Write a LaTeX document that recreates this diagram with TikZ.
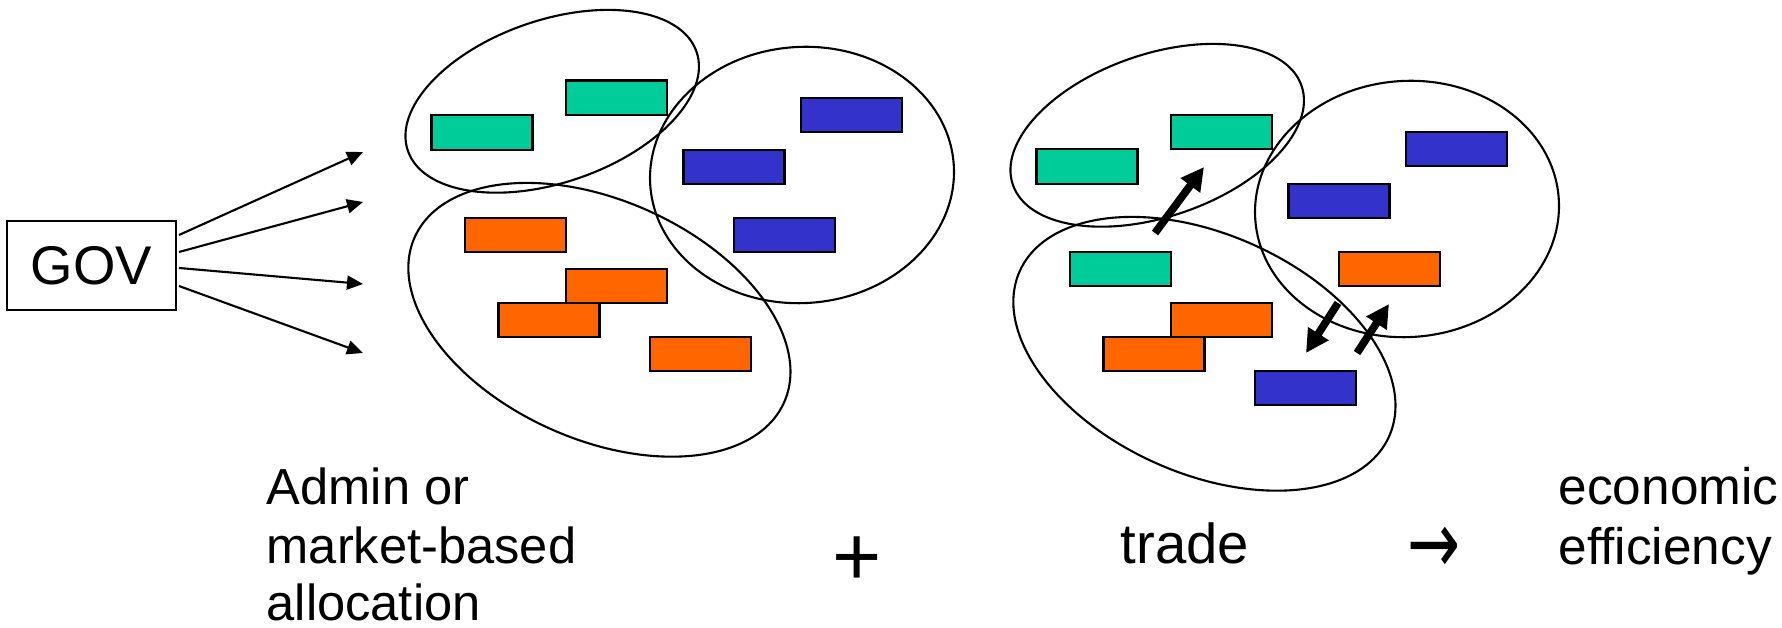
\documentclass[tikz,border=0pt]{standalone}
\usepackage{fontspec}
\setmainfont{Liberation Sans}
\newfontfamily\arrowfont{DejaVu Sans}
\usetikzlibrary{arrows.meta}
\definecolor{tgreen}{HTML}{00CC99}
\definecolor{tblue}{HTML}{3333CC}
\definecolor{torange}{HTML}{FF6600}
\begin{document}
\begin{tikzpicture}[x=0.01cm,y=-0.01cm,
  bar/.style={draw=black, line width=0.7pt, minimum width=1.01cm, minimum height=0.345cm, inner sep=0pt, outer sep=0pt},
  grn/.style={bar, fill=tgreen},
  blu/.style={bar, fill=tblue},
  org/.style={bar, fill=torange},
  group/.style={draw=black, line width=0.6pt},
  thinarrow/.style={line width=0.6pt, -{Triangle[length=0.16cm,width=0.14cm]}},
  thickarrow/.style={line width=2.2pt, -{Triangle[length=0.23cm,width=0.23cm]}},
  lbl/.style={inner sep=0pt, anchor=base west}]
\useasboundingbox (0,0) rectangle (1782,628);

% GOV and allocation arrows
\node[draw, line width=0.6pt, minimum width=1.69cm, minimum height=0.89cm, inner sep=0pt,
  font=\fontsize{15.5}{18}\selectfont] (gov) at (91.5,265.5) {GOV};
\coordinate (s1) at (179,235); \coordinate (e1) at (363,152);
\coordinate (s2) at (179,252); \coordinate (e2) at (363,202);
\coordinate (s3) at (179,268); \coordinate (e3) at (363,284);
\coordinate (s4) at (179,286); \coordinate (e4) at (363,353);
\draw[thinarrow] (s1) -- (e1);
\draw[thinarrow] (s2) -- (e2);
\draw[thinarrow] (s3) -- (e3);
\draw[thinarrow] (s4) -- (e4);

% left cluster
\node[grn] (lg1) at (481.9,132.5) {};
\node[grn] (lg2) at (616.6,98) {};
\node[blu] (lb1) at (851.5,115) {};
\node[blu] (lb2) at (734,167) {};
\node[blu] (lb3) at (784.5,235) {};
\node[org] (lo1) at (515.4,235) {};
\node[org] (lo2) at (616.6,286) {};
\node[org] (lo3) at (549,320) {};
\node[org] (lo4) at (700.5,354) {};
\draw[group, rotate around={18.9:(552.2,101.3)}] (552.2,101.3) ellipse [x radius=1.525cm, y radius=0.812cm];
\draw[group, rotate around={4:(802,175)}] (802,175) ellipse [x radius=1.52cm, y radius=1.28cm];
\draw[group, rotate around={-24.1:(599.4,319.8)}] (599.4,319.8) ellipse [x radius=2.022cm, y radius=1.195cm];

% right cluster
\node[grn] (rg1) at (1086.9,166.5) {};
\node[grn] (rg2) at (1221.6,132) {};
\node[blu] (rb1) at (1456.5,149) {};
\node[blu] (rb2) at (1339,201) {};
\node[org] (ro1) at (1389.5,269) {};
\node[grn] (rg3) at (1120.4,269) {};
\node[org] (ro2) at (1221.6,320) {};
\node[org] (ro3) at (1154,354) {};
\node[blu] (rb3) at (1305.5,388) {};
\draw[group, rotate around={18.9:(1157.2,135.3)}] (1157.2,135.3) ellipse [x radius=1.525cm, y radius=0.812cm];
\draw[group, rotate around={4:(1407,209)}] (1407,209) ellipse [x radius=1.52cm, y radius=1.28cm];
\draw[group, rotate around={-24.1:(1204.4,353.8)}] (1204.4,353.8) ellipse [x radius=2.022cm, y radius=1.195cm];

% trade arrows
\coordinate (ta1) at (1155,233); \coordinate (tb1) at (1204,167);
\coordinate (ta2) at (1338,303); \coordinate (tb2) at (1306,353);
\coordinate (ta3) at (1357,353); \coordinate (tb3) at (1389,304);
\draw[thickarrow] (ta1) -- (tb1);
\draw[thickarrow] (ta2) -- (tb2);
\draw[thickarrow] (ta3) -- (tb3);

% labels
\node[lbl, font=\fontsize{14.4}{17}\selectfont] (adm1) at (266,505) {Admin or};
\node[lbl, font=\fontsize{14.4}{17}\selectfont] (adm2) at (266,564) {market-based};
\node[lbl, font=\fontsize{14.4}{17}\selectfont] (adm3) at (266,620) {allocation};
\node[font=\fontsize{24}{28}\selectfont, inner sep=0pt] (plus) at (857.5,561) {+};
\node[lbl, font=\fontsize{16}{19}\selectfont] (trd) at (1120,564) {trade};
\node[font=\fontsize{20}{24}\arrowfont, inner sep=0pt] (yields) at (1433.5,550) {\scalebox{0.9}[1.25]{→}};
\node[lbl, font=\fontsize{14.6}{17}\selectfont] (eco1) at (1558,505) {economic};
\node[lbl, font=\fontsize{14.6}{17}\selectfont] (eco2) at (1558,565) {efficiency};
\end{tikzpicture}
\end{document}
